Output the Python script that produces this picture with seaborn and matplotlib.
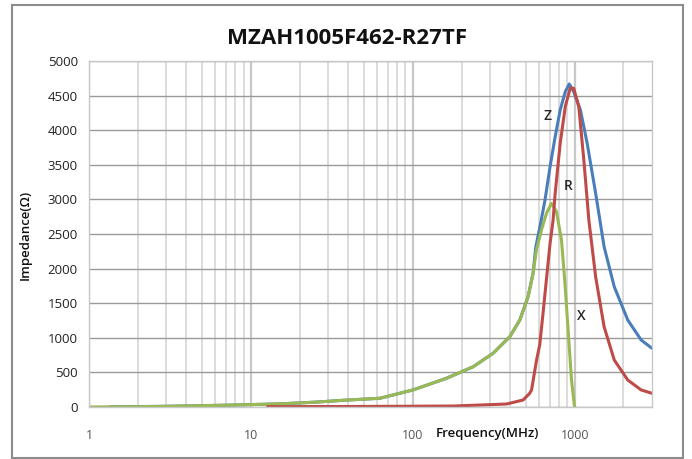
import matplotlib
matplotlib.use("Agg")
import matplotlib.pyplot as plt
import matplotlib.patches as mpatches
from matplotlib.ticker import FixedLocator, NullFormatter
import seaborn as sns

# Values (frequency in MHz, impedance in ohm)
z_freq = [1.35, 3, 6.7, 15, 25, 39, 62.6, 100, 161, 236, 313, 397, 458, 515, 553,
          575, 615, 655, 704, 757, 813, 874, 925, 985, 1084, 1193, 1346, 1518,
          1754, 2125, 2572, 3000]
z_vals = [3, 10, 25, 45, 70, 100, 126, 246, 414, 582, 776, 1016, 1257, 1594, 1935,
          2316, 2650, 2991, 3473, 3906, 4292, 4557, 4668, 4557, 4292, 3811, 3088, 2316,
          1738, 1257, 968, 848]

r_freq = [12.7, 50, 177, 379, 480, 527, 541, 581, 608, 640, 669, 704, 735, 757, 813,
          874, 937, 985, 1059, 1138, 1222, 1346, 1518, 1754, 2125, 2572, 3000]
r_vals = [5, 8, 14, 43, 101, 198, 246, 679, 900, 1402, 1850, 2366, 2700, 3088, 3811,
          4340, 4606, 4606, 4340, 3569, 2702, 1883, 1160, 679, 390, 246, 198]

x_freq = [1.0, 2, 3, 6.7, 15, 25, 39, 62.6, 100, 161, 236, 313, 397, 458, 515, 553,
          580, 623, 669, 718, 771, 828, 867, 910, 955, 997]
x_vals = [0, 5, 10, 25, 45, 70, 100, 126, 246, 414, 582, 776, 1016, 1257, 1594, 1932,
          2269, 2558, 2799, 2943, 2823, 2413, 1835, 1113, 390, 0]

y_ticks = list(range(0, 5001, 500))
x_ticks = [1, 10, 100, 1000]
x_minor = [m * d for d in (1, 10, 100, 1000) for m in range(2, 10) if m * d < 3000]

sns.set_theme(style="white")
plt.rcParams["font.family"] = ["Open Sans", "DejaVu Sans"]

fig = plt.figure(figsize=(6.92, 4.59), dpi=100)
ax = fig.add_axes([89 / 692, 1 - 407 / 459, (652 - 89) / 692, (407 - 61) / 459])

# outer chart frame
fig.patches.append(mpatches.Rectangle((12 / 692, 1 - 458 / 459), 671 / 692, 453 / 459,
                                      transform=fig.transFigure, fill=False,
                                      edgecolor="#8c8c8c", linewidth=1.5))

sns.lineplot(x=z_freq, y=z_vals, color="#4a7ebb", linewidth=2.2, ax=ax)
sns.lineplot(x=x_freq, y=x_vals, color="#98b954", linewidth=2.2, ax=ax)
sns.lineplot(x=r_freq, y=r_vals, color="#be4b48", linewidth=2.2, ax=ax)

ax.set_xscale("log")
ax.set_xlim(1, 3000)
ax.set_ylim(0, 5000)
ax.xaxis.set_major_locator(FixedLocator(x_ticks))
ax.set_xticklabels([str(t) for t in x_ticks])
ax.xaxis.set_minor_locator(FixedLocator(x_minor))
ax.xaxis.set_minor_formatter(NullFormatter())
ax.set_yticks(y_ticks)
ax.set_yticklabels([str(t) for t in y_ticks])

ax.grid(True, which="major", axis="y", color="#9a9a9a", linewidth=1.0)
ax.grid(True, which="major", axis="x", color="#c8c8c8", linewidth=1.6)
ax.grid(True, which="minor", axis="x", color="#dcdcdc", linewidth=1.4)
ax.set_axisbelow(True)
for side in ["top", "right", "left", "bottom"]:
    ax.spines[side].set_color("#c8c8c8")
    ax.spines[side].set_linewidth(1.0)

ax.tick_params(axis="x", which="both", length=0, pad=16, labelsize=9, labelcolor="#555555")
ax.tick_params(axis="y", length=0, pad=8, labelsize=9.5, labelcolor="#222222")
ax.set_xlabel("")
ax.set_ylabel("")

fig.text(347 / 692, 1 - 38 / 459, "MZAH1005F462-R27TF", ha="center", va="center",
         fontsize=16, fontweight="bold", color="#111111")
fig.text(487 / 692, 1 - 434 / 459, "Frequency(MHz)", ha="center", va="center",
         fontsize=9.5, fontweight="semibold", color="#111111")
fig.text(25 / 692, 1 - 235 / 459, "Impedance(Ω)", ha="center", va="center",
         rotation=90, fontsize=9.5, fontweight="semibold", color="#111111")

ax.text(681, 4203, "Z", ha="center", va="center", fontsize=10, fontweight="semibold")
ax.text(906, 3188, "R", ha="center", va="center", fontsize=10, fontweight="semibold")
ax.text(1105, 1319, "X", ha="center", va="center", fontsize=10, fontweight="semibold")

fig.savefig("out.png", dpi=100, facecolor="white")
